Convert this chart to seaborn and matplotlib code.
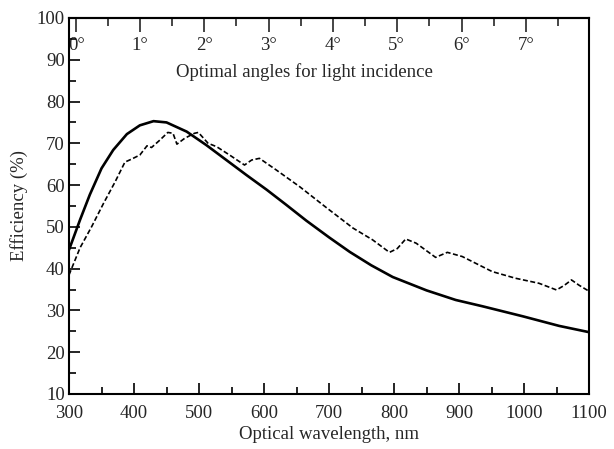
import matplotlib
matplotlib.use("Agg")
import matplotlib.pyplot as plt
import numpy as np
import pandas as pd
import seaborn as sns
from matplotlib.ticker import MultipleLocator

# solid curve: efficiency vs wavelength
solid_nm = [300, 317, 332, 350, 368, 389, 409, 430, 450, 481, 511, 542, 573,
            604, 634, 665, 700, 732, 765, 798, 850, 895, 936, 998, 1054, 1100]
solid_eff = [44.5, 51.7, 57.7, 64.0, 68.4, 72.2, 74.3, 75.3, 75.0, 72.8, 69.6,
             66.0, 62.4, 58.9, 55.3, 51.5, 47.5, 44.0, 40.8, 38.0, 34.8, 32.5,
             31.0, 28.6, 26.3, 24.8]

# dashed curve
dashed_nm = [300, 317, 335, 353, 371, 386, 396, 409, 420, 427, 440, 452, 460,
             466, 478, 493, 499, 514, 527, 547, 570, 581, 593, 619, 655, 696,
             737, 767, 793, 805, 818, 834, 864, 882, 905, 951, 987, 1023, 1050,
             1062, 1073, 1085, 1100]
dashed_eff = [38.5, 45.0, 50.1, 55.6, 60.8, 65.5, 66.2, 67.2, 69.4, 69.0, 70.8,
              72.6, 72.4, 69.8, 71.2, 72.4, 72.6, 70.0, 69.2, 67.2, 64.8, 66.0,
              66.4, 63.6, 59.6, 54.6, 49.7, 46.9, 43.9, 44.8, 47.1, 46.1, 42.7,
              43.9, 42.9, 39.3, 37.7, 36.5, 34.9, 36.0, 37.3, 36.0, 34.6]

# top axis: optimal incidence angles placed along wavelength
angle_nm = [311, 409, 508, 607, 706, 804, 904, 1003]
angle_labels = ["0°", "1°", "2°", "3°", "4°", "5°", "6°", "7°"]

sns.set_style("ticks")
plt.rcParams["font.family"] = ["Liberation Serif", "DejaVu Serif"]

fs = 13.5
fig = plt.figure(figsize=(6.14, 4.49), dpi=100)
ax = fig.add_axes([0.1124, 0.1225, 0.8469, 0.8375])

solid = pd.DataFrame({"nm": solid_nm, "eff": solid_eff})
dashed = pd.DataFrame({"nm": dashed_nm, "eff": dashed_eff})
sns.lineplot(data=solid, x="nm", y="eff", ax=ax, color="black", lw=1.9,
             sort=False, errorbar=None)
sns.lineplot(data=dashed, x="nm", y="eff", ax=ax, color="black", lw=1.2,
             sort=False, errorbar=None, linestyle=(0, (3, 1.5)))

ax.set_xlim(300, 1100)
ax.set_ylim(10, 100)
ax.xaxis.set_major_locator(MultipleLocator(100))
ax.xaxis.set_minor_locator(MultipleLocator(50))
ax.yaxis.set_major_locator(MultipleLocator(10))
ax.yaxis.set_minor_locator(MultipleLocator(5))
ax.tick_params(which="both", direction="in", labelsize=fs, color="black",
               width=1.2, right=False, top=False)
ax.tick_params(which="major", length=8)
ax.tick_params(which="minor", length=5)
ax.tick_params(axis="x", pad=8)
ax.tick_params(axis="y", pad=3)
for s in ax.spines.values():
    s.set_linewidth(1.5)
    s.set_color("black")

ax.set_xlabel("Optical wavelength, nm", fontsize=fs, labelpad=3)
ax.set_ylabel("Efficiency (%)", fontsize=fs, labelpad=6)

top = ax.secondary_xaxis("top")
top.set_xticks(angle_nm, labels=angle_labels)
half = [(a + b) / 2 for a, b in zip(angle_nm[:-1], angle_nm[1:])]
half.append(angle_nm[-1] + (angle_nm[-1] - angle_nm[-2]) / 2)
top.set_xticks(half, minor=True)
top.tick_params(which="both", direction="in", labelsize=fs, width=1.2, pad=-26)
top.tick_params(which="major", length=10)
top.tick_params(which="minor", length=6)
top.spines["top"].set_linewidth(1.5)

ax.text(662, 87.0, "Optimal angles for light incidence", fontsize=fs,
        ha="center", va="center")

fig.savefig("out.png", dpi=100)
